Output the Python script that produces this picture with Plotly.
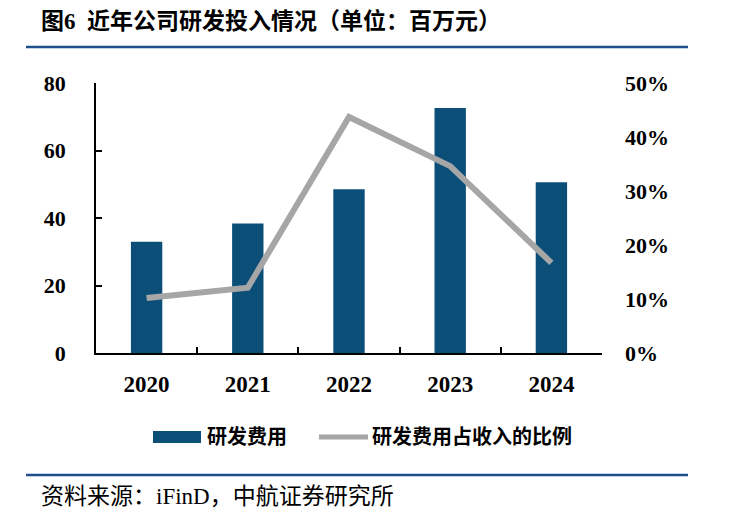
import plotly.graph_objects as go

years = ["2020", "2021", "2022", "2023", "2024"]
rd_expense = [33.0, 38.4, 48.5, 72.6, 50.6]          # 百万元
rd_ratio = [0.102, 0.121, 0.437, 0.346, 0.167]       # 占收入比例

title_text = "图6  近年公司研发投入情况（单位：百万元）"
source_text = "资料来源：iFinD，中航证券研究所"
legend_bar = "研发费用"
legend_line = "研发费用占收入的比例"

BAR_COLOR = "#0B4F79"
LINE_COLOR = "#A6A6A6"
RULE_COLOR = "#1F4E8C"
SERIF = "Liberation Serif, Noto Sans CJK SC"

OFF = 8  # page body margin
W, H = 745 - OFF, 520 - OFF
L, R, T, B = 96 - OFF, 602 - OFF, 83 - OFF, 353 - OFF  # plot area in pixels


def px(x):
    return (x - OFF - L) / (R - L)


def py(y):
    return (B - (y - OFF)) / (B - T)


fig = go.Figure()
fig.add_trace(go.Bar(x=years, y=rd_expense, name=legend_bar, marker_color=BAR_COLOR,
                     marker_line_width=0, width=0.31, showlegend=False))
fig.add_trace(go.Scatter(x=years, y=rd_ratio, name=legend_line, yaxis="y2", mode="lines",
                         line=dict(color=LINE_COLOR, width=6), showlegend=False))

tickfont = dict(family=SERIF, size=22, color="black", weight="bold")
xtickfont = dict(family=SERIF, size=23, color="black", weight="bold")

fig.update_layout(
    width=W, height=H,
    margin=dict(l=L, r=W - R, t=T, b=H - B, pad=0),
    paper_bgcolor="white", plot_bgcolor="white",
    xaxis=dict(type="category", showline=True, linecolor="black", linewidth=1.5,
               ticks="inside", tickson="boundaries", ticklen=6, tickcolor="black",
               tickwidth=1.5, tickfont=xtickfont, showgrid=False, ticklabelstandoff=10,
               zeroline=False),
    yaxis=dict(range=[0, 80], dtick=20, showline=True, linecolor="black", linewidth=1.5,
               ticks="inside", ticklen=6, tickcolor="black", tickwidth=1.5,
               tickfont=tickfont, showgrid=False, zeroline=False, ticklabelstandoff=24),
    yaxis2=dict(range=[0, 0.5], dtick=0.1, tickformat=".0%", overlaying="y", side="right",
                showline=False, ticks="", tickfont=tickfont, showgrid=False,
                zeroline=False, ticklabelstandoff=22),
)

# header and footer rules
fig.add_shape(type="line", xref="paper", yref="paper", x0=px(26), x1=px(688),
              y0=py(47), y1=py(47), line=dict(color=RULE_COLOR, width=2.5))
fig.add_shape(type="line", xref="paper", yref="paper", x0=px(26), x1=px(688),
              y0=py(475), y1=py(475), line=dict(color=RULE_COLOR, width=2.5))

fig.add_annotation(text=title_text, xref="paper", yref="paper", x=px(39), y=py(21),
                   xanchor="left", yanchor="middle", showarrow=False,
                   font=dict(family=SERIF, size=23, color="black", weight="bold"))
fig.add_annotation(text=source_text, xref="paper", yref="paper", x=px(39), y=py(497),
                   xanchor="left", yanchor="middle", showarrow=False,
                   font=dict(family=SERIF, size=23, color="black"))

# legend
fig.add_shape(type="rect", xref="paper", yref="paper", x0=px(153), x1=px(201),
              y0=py(443), y1=py(431), fillcolor=BAR_COLOR, line_width=0)
fig.add_annotation(text=legend_bar, xref="paper", yref="paper", x=px(205), y=py(437),
                   xanchor="left", yanchor="middle", showarrow=False,
                   font=dict(family=SERIF, size=20, color="black", weight="bold"))
fig.add_shape(type="line", xref="paper", yref="paper", x0=px(319), x1=px(368),
              y0=py(437), y1=py(437), line=dict(color=LINE_COLOR, width=5))
fig.add_annotation(text=legend_line, xref="paper", yref="paper", x=px(370), y=py(437),
                   xanchor="left", yanchor="middle", showarrow=False,
                   font=dict(family=SERIF, size=20, color="black", weight="bold"))

fig.write_html("out.html")
